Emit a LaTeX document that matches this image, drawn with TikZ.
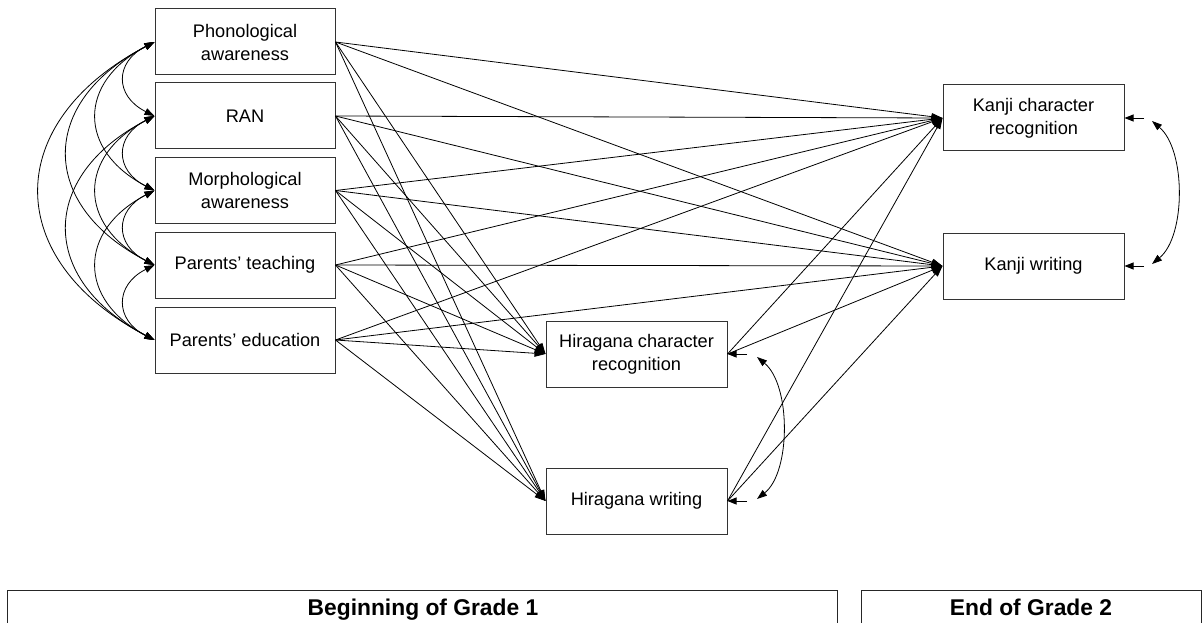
\documentclass[tikz,border=0pt]{standalone}
\usepackage{fontspec}
\setmainfont{Liberation Sans}
\usetikzlibrary{arrows.meta}
\begin{document}
\begin{tikzpicture}[x=1pt,y=-1pt,
  box/.style={draw=black!80,line width=1pt,minimum width=180pt,minimum height=66pt,
    align=center,inner sep=0pt,font=\fontsize{18.2}{23}\selectfont},
  path/.style={line width=0.8pt,-{Triangle[length=11pt,width=7pt]}},
  cov/.style={line width=0.8pt,{Triangle[length=10pt,width=7pt]}-{Triangle[length=10pt,width=7pt]}},
  err/.style={line width=0.8pt,-{Triangle[length=9pt,width=7pt]}},
  lbl/.style={font=\fontsize{22.8}{26}\selectfont\bfseries,inner sep=0pt,anchor=base}]
\useasboundingbox (0,0) rectangle (1202,623);
% predictors
\node[box] (pa) at (245,42) {Phonological\\awareness};
\node[box] (ran) at (245,116) {RAN};
\node[box] (ma) at (245,190.5) {Morphological\\awareness};
\node[box] (pt) at (245,265) {Parents' teaching};
\node[box] (pe) at (245,340) {Parents' education};
% outcomes
\node[box,minimum width=181pt] (hr) at (636.5,354) {Hiragana character\\recognition};
\node[box,minimum width=181pt] (hw) at (636.5,501) {Hiragana writing};
\node[box,minimum width=181pt] (kr) at (1033.5,118) {Kanji character\\recognition};
\node[box,minimum width=181pt] (kw) at (1033.5,266) {Kanji writing};
% paths
\foreach \s in {pa,ran,ma,pt,pe}{
  \foreach \t in {kr,kw,hr,hw}{
    \draw[path] (\s.east) -- (\t.west);
  }
}
\foreach \s in {hr,hw}{
  \foreach \t in {kr,kw}{
    \draw[path] (\s.east) -- (\t.west);
  }
}
% covariances among predictors
\draw[cov] (pa.west) .. controls +(-40,20) and +(-40,-20) .. (ran.west);
\draw[cov] (ran.west) .. controls +(-40,20) and +(-40,-20) .. (ma.west);
\draw[cov] (ma.west) .. controls +(-40,20) and +(-40,-20) .. (pt.west);
\draw[cov] (pt.west) .. controls +(-40,20) and +(-40,-20) .. (pe.west);
\draw[cov] (pa.west) .. controls +(-77,40) and +(-77,-40) .. (ma.west);
\draw[cov] (ran.west) .. controls +(-77,40) and +(-77,-40) .. (pt.west);
\draw[cov] (ma.west) .. controls +(-77,40) and +(-77,-40) .. (pe.west);
\draw[cov] (pa.west) .. controls +(-116,60) and +(-116,-60) .. (pt.west);
\draw[cov] (ran.west) .. controls +(-116,60) and +(-116,-60) .. (pe.west);
\draw[cov] (pa.west) .. controls +(-153,80) and +(-153,-80) .. (pe.west);
% residuals
\coordinate (krE) at (1144,118);
\coordinate (kwE) at (1144,266);
\coordinate (hrE) at (747,354);
\coordinate (hwE) at (747,501);
\draw[err] (krE) -- (kr.east);
\draw[err] (kwE) -- (kw.east);
\draw[err] (hrE) -- (hr.east);
\draw[err] (hwE) -- (hw.east);
\coordinate (kr2) at (1152,121);
\coordinate (kw2) at (1152,264);
\coordinate (hr2) at (757,357);
\coordinate (hw2) at (757,499);
\draw[cov] (kr2) .. controls (1186,150) and (1186,236) .. (kw2);
\draw[cov] (hr2) .. controls (791,385) and (791,472) .. (hw2);
% time labels
\draw[line width=1pt,black!85] (7,630) -- (7,590) -- (837,590) -- (837,630);
\draw[line width=1pt,black!85] (861,630) -- (861,590) -- (1201,590) -- (1201,630);
\node[lbl] (g1) at (423,615) {Beginning of Grade 1};
\node[lbl] (g2) at (1031,615) {End of Grade 2};
\end{tikzpicture}
\end{document}
